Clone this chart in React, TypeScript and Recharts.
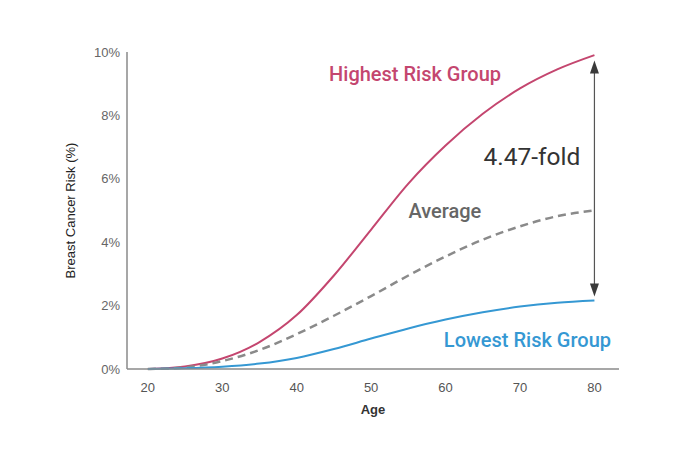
import { LineChart, Line, XAxis, YAxis, ReferenceLine, ReferenceDot, Label } from 'recharts';

const ages = [20, 25, 30, 35, 40, 45, 50, 55, 60, 65, 70, 75, 80];
const highestRisk = [0, 0.08, 0.33, 0.85, 1.7, 2.95, 4.4, 5.85, 7.05, 8.05, 8.85, 9.45, 9.9];
const averageRisk = [0, 0.05, 0.25, 0.6, 1.1, 1.68, 2.3, 2.95, 3.55, 4.08, 4.5, 4.82, 5.0];
const lowestRisk = [0, 0.02, 0.07, 0.17, 0.35, 0.63, 0.96, 1.28, 1.56, 1.79, 1.97, 2.09, 2.16];
const ageTicks = [20, 30, 40, 50, 60, 70, 80];
const riskTicks = [0, 2, 4, 6, 8, 10];

const chartData = ages.map((age, i) => ({
  age,
  highest: highestRisk[i],
  average: averageRisk[i],
  lowest: lowestRisk[i],
}));

const PINK = '#c4466f';
const BLUE = '#3598d3';
const GREY = '#8a8a8a';
const AXIS_FONT = '"Liberation Sans", Arial, sans-serif';
const NOTE_FONT = 'Roboto, "Open Sans", sans-serif';

function note(text: string, color: string, size: number, weight: number) {
  return (props: any) => (
    <text
      x={props.cx}
      y={props.cy}
      textAnchor="middle"
      dominantBaseline="central"
      fill={color}
      fontSize={size}
      fontWeight={weight}
      fontFamily={NOTE_FONT}
    >
      {text}
    </text>
  );
}

function arrowHead(dir: 'up' | 'down') {
  return (props: any) => {
    const { cx, cy } = props;
    const h = dir === 'up' ? 13 : -13;
    return <path d={`M${cx},${cy} L${cx - 4.5},${cy + h} L${cx + 4.5},${cy + h} Z`} fill="#3a3a3a" />;
  };
}

export default function App() {
  return (
    <div style={{ position: 'absolute', left: 0, top: 0, background: '#fff' }}>
      <LineChart
        width={690}
        height={457}
        data={chartData}
        margin={{ top: 52, right: 71, left: 0, bottom: 28 }}
      >
        <XAxis
          dataKey="age"
          type="number"
          domain={[17.2, 83.3]}
          ticks={ageTicks}
          allowDataOverflow
          height={60}
          stroke={GREY}
          strokeWidth={1.5}
          tickLine={false}
          tickMargin={8}
          tick={{ fontSize: 13, fill: '#555', fontFamily: AXIS_FONT }}
        >
          <Label
            content={({ viewBox }: any) => (
              <text
                x={viewBox.x + viewBox.width / 2}
                y={viewBox.y + 45}
                textAnchor="middle"
                fontSize={13}
                fontWeight={600}
                fill="#333"
                fontFamily={AXIS_FONT}
              >
                Age
              </text>
            )}
          />
        </XAxis>
        <YAxis
          type="number"
          domain={[0, 10]}
          ticks={riskTicks}
          width={127}
          stroke={GREY}
          strokeWidth={1.5}
          tickLine={false}
          tickMargin={1}
          tickFormatter={(v: number) => `${v}%`}
          tick={{ fontSize: 13, fill: '#666', fontFamily: AXIS_FONT }}
        >
          <Label
            content={({ viewBox }: any) => {
              const x = viewBox.x + 70;
              const y = viewBox.y + viewBox.height / 2;
              return (
                <text
                  x={x}
                  y={y}
                  transform={`rotate(-90 ${x} ${y})`}
                  textAnchor="middle"
                  dominantBaseline="central"
                  fontSize={13}
                  fill="#222"
                  fontFamily={AXIS_FONT}
                >
                  Breast Cancer Risk (%)
                </text>
              );
            }}
          />
        </YAxis>
        <Line
          type="monotone"
          dataKey="highest"
          stroke={PINK}
          strokeWidth={2}
          dot={false}
          isAnimationActive={false}
        />
        <Line
          type="monotone"
          dataKey="average"
          stroke={GREY}
          strokeWidth={2.5}
          strokeDasharray="8 5"
          dot={false}
          isAnimationActive={false}
        />
        <Line
          type="monotone"
          dataKey="lowest"
          stroke={BLUE}
          strokeWidth={2}
          dot={false}
          isAnimationActive={false}
        />
        <ReferenceLine
          segment={[
            { x: 80, y: 9.4 },
            { x: 80, y: 2.6 },
          ]}
          stroke="#555"
          strokeWidth={1.2}
        />
        <ReferenceDot x={80} y={9.73} r={0} shape={arrowHead('up')} />
        <ReferenceDot x={80} y={2.29} r={0} shape={arrowHead('down')} />
        <ReferenceDot x={55.9} y={9.3} r={0} shape={note('Highest Risk Group', PINK, 20, 500)} />
        <ReferenceDot x={59.9} y={4.97} r={0} shape={note('Average', '#666', 20, 500)} />
        <ReferenceDot x={71.6} y={6.7} r={0} shape={note('4.47-fold', '#333', 24.5, 400)} />
        <ReferenceDot x={71.0} y={0.92} r={0} shape={note('Lowest Risk Group', BLUE, 20, 500)} />
      </LineChart>
    </div>
  );
}
